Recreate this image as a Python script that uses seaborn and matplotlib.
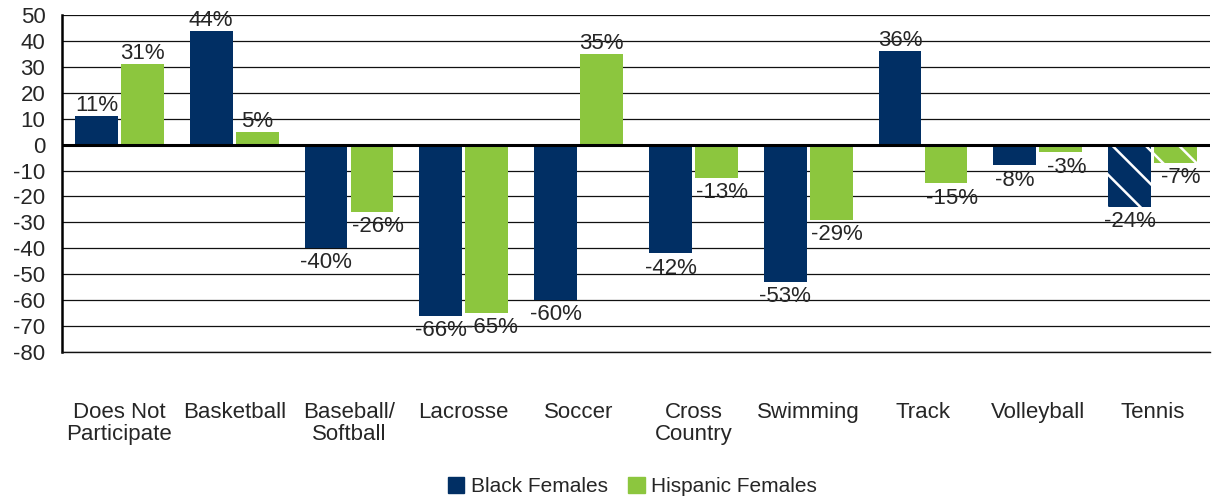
import numpy as np
import pandas as pd
import matplotlib
matplotlib.use("Agg")
import matplotlib.pyplot as plt
import seaborn as sns

sports = ["Does Not\nParticipate", "Basketball", "Baseball/\nSoftball", "Lacrosse", "Soccer",
          "Cross\nCountry", "Swimming", "Track", "Volleyball", "Tennis"]
black_females = [11, 44, -40, -66, -60, -42, -53, 36, -8, -24]
hispanic_females = [31, 5, -26, -65, 35, -13, -29, -15, -3, -7]
groups = ["Black Females", "Hispanic Females"]
colors = ["#012F64", "#8CC63E"]

df = pd.DataFrame({
    "sport": sports * 2,
    "pct": black_females + hispanic_females,
    "group": [groups[0]] * len(sports) + [groups[1]] * len(sports),
})

sns.set_style("white")
plt.rcParams["font.family"] = ["Liberation Sans", "DejaVu Sans"]
plt.rcParams["axes.unicode_minus"] = False
plt.rcParams["hatch.linewidth"] = 1.8

fig = plt.figure(figsize=(12.14, 5.0), dpi=100)
ax = fig.add_axes([62 / 1214, 1 - 352 / 500, 1 - 66 / 1214, 337 / 500])

sns.barplot(data=df, x="sport", y="pct", hue="group", palette=colors, order=sports,
            hue_order=groups, width=0.8, gap=0.07, saturation=1, ax=ax, legend=False,
            linewidth=0, zorder=3)

ax.set_ylim(-80, 50)
ax.set_yticks(np.arange(-80, 51, 10))
ax.set_xlim(-0.5, len(sports) - 0.5)
ax.grid(axis="y", color="#111111", linewidth=0.9, zorder=0)
ax.set_axisbelow(True)
ax.axhline(0, color="black", linewidth=2.2, zorder=4)
for s in ["top", "right"]:
    ax.spines[s].set_visible(False)
ax.spines["bottom"].set_color("#111111")
ax.spines["bottom"].set_linewidth(1.0)
ax.spines["left"].set_color("black")
ax.spines["left"].set_linewidth(1.8)
ax.tick_params(axis="y", length=0, pad=12, labelsize=16)
ax.tick_params(axis="x", length=0, pad=36, labelsize=16)
for lbl in ax.get_xticklabels():
    lbl.set_verticalalignment("top")
    lbl.set_linespacing(1.05)
ax.set_xlabel("")
ax.set_ylabel("")

# tennis bars hatched
for cont in ax.containers:
    bar = cont.patches[-1]
    bar.set_hatch("\\")
    bar.set_edgecolor("white")
    bar.set_linewidth(0)

# value labels
for k, (cont, vals) in enumerate(zip(ax.containers, [black_females, hispanic_females])):
    for bar, v in zip(cont.patches, vals):
        x = bar.get_x() + bar.get_width() / 2
        if v >= 0:
            ax.annotate(f"{v}%", (x, v), xytext=(0, 0), textcoords="offset points",
                        ha="center", va="bottom", fontsize=16, zorder=5)
        else:
            dx = 0 if k == 0 else 4
            ax.annotate(f"{v}%", (x, v), xytext=(dx, -3), textcoords="offset points",
                        ha="center", va="top", fontsize=16, zorder=5)

handles = [plt.Rectangle((0, 0), 1, 1, color=c) for c in colors]
fig.legend(handles, groups, loc="lower center", bbox_to_anchor=(0.521, -0.03), ncol=2,
           frameon=False, fontsize=15, handlelength=0.8, handleheight=0.8,
           handletextpad=0.3, columnspacing=1.0)

fig.savefig("out.png", dpi=100)
